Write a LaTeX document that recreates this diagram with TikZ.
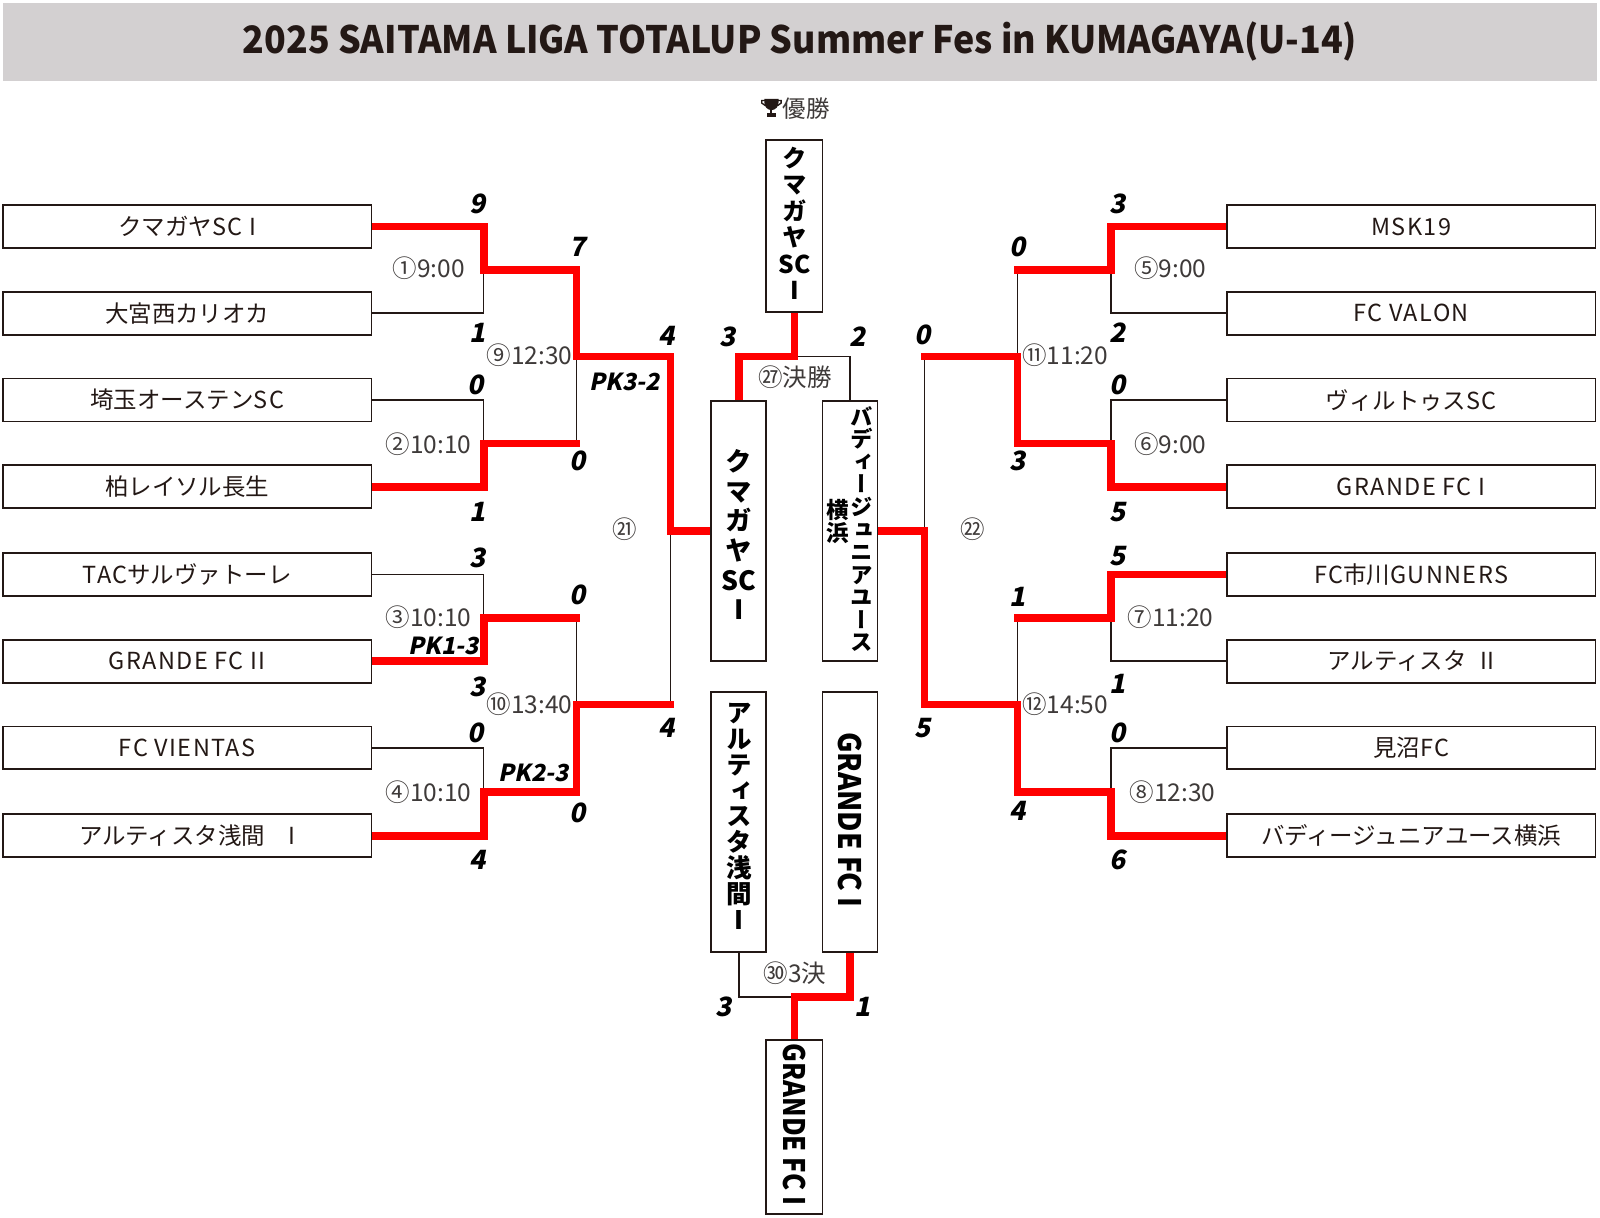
\documentclass[tikz,border=0pt]{standalone}
\usepackage{fontspec}
\usepackage{graphicx}
\setmainfont{Noto Sans CJK JP}
\newfontfamily\jp{Noto Sans CJK JP}
\newfontfamily\jpv{Noto Sans CJK JP}[RawFeature={+vert}]
\newfontfamily\scf{Noto Sans CJK JP}[FakeSlant=0.2]
\newcommand\latw[1]{{\addfontfeatures{LetterSpace=6}#1}}
\definecolor{ink}{HTML}{231815}
\definecolor{gtext}{HTML}{3E3A39}
\definecolor{wred}{RGB}{255,0,0}
\definecolor{titlebg}{RGB}{211,208,209}
\tikzset{
  teambox/.style={draw=ink, line width=1.8pt, minimum width=361pt, minimum height=42pt, inner sep=0pt, text=ink, font=\jp\fontsize{23}{23}\selectfont},
  vbox/.style={draw=ink, line width=1.8pt, minimum width=54pt, inner sep=0pt},
  thinline/.style={draw=ink, line width=1.6pt},
  winline/.style={draw=wred, line width=7.5pt, line join=miter},
  score/.style={font=\scf\bfseries\fontsize{26}{26}\selectfont, text=black, inner sep=0pt},
  pklabel/.style={font=\scf\bfseries\fontsize{23}{23}\selectfont, text=black, inner sep=0pt},
  mlabel/.style={font=\jp\fontsize{24}{24}\selectfont, text=gtext, inner sep=0pt},
  vstack/.style={align=center, inner sep=0pt, text=black},
  rottext/.style={inner sep=0pt, text=black, rotate=-90, font=\jp\bfseries\fontsize{30}{30}\selectfont},
}
\begin{document}
\begin{tikzpicture}[x=1pt, y=-1pt]
\useasboundingbox (0,0) rectangle (1568,1193);
% title
\fill[titlebg] (3,3) rectangle (1565,79);
\node[inner sep=0pt, text=ink] (title) at (784,41) {\resizebox{1092pt}{\height}{\jp\bfseries\fontsize{37}{37}\selectfont 2025 SAITAMA LIGA TOTALUP Summer Fes in KUMAGAYA(U-14)}};

% junction coordinates
\coordinate (a1) at (474,264.5);
\coordinate (a2) at (474,434.5);
\coordinate (a3) at (474,605.5);
\coordinate (a4) at (474,776);
\coordinate (b1) at (565,349.5);
\coordinate (b2) at (565,690.5);
\coordinate (c1) at (657,520.5);
\coordinate (d1) at (1089,264.5);
\coordinate (d2) at (1089,434.5);
\coordinate (d3) at (1089,605.5);
\coordinate (d4) at (1089,776);
\coordinate (e1) at (997,349.5);
\coordinate (e2) at (997,690.5);
\coordinate (f1) at (906,520.5);
\coordinate (g1) at (778.5,349.5);
\coordinate (h1) at (778.5,977);

% team boxes
\node[teambox] (L1) at (183.5,222) {クマガヤ\latw{SC I}};
\node[teambox] (L2) at (183.5,307) {大宮西カリオカ};
\node[teambox] (L3) at (183.5,392) {埼玉オーステン\latw{SC}};
\node[teambox] (L4) at (183.5,477) {柏レイソル長生};
\node[teambox] (L5) at (183.5,563) {\latw{TAC}サルヴァトーレ};
\node[teambox] (L6) at (183.5,648) {\latw{GRANDE FC II}};
\node[teambox] (L7) at (183.5,733) {\latw{FC VIENTAS}};
\node[teambox] (L8) at (183.5,819) {アルティスタ浅間　I};
\node[teambox] (R1) at (1383,222) {\latw{MSK19}};
\node[teambox] (R2) at (1383,307) {\latw{FC VALON}};
\node[teambox] (R3) at (1383,392) {ヴィルトゥス\latw{SC}};
\node[teambox] (R4) at (1383,477) {\latw{GRANDE FC I}};
\node[teambox] (R5) at (1383,563) {\latw{FC}市川\latw{GUNNERS}};
\node[teambox] (R6) at (1383,648) {アルティスタ\hspace{0.6em}II};
\node[teambox] (R7) at (1383,733) {見沼\latw{FC}};
\node[teambox] (R8) at (1383,819) {バディージュニアユース横浜};

% centre boxes
\node[vbox, minimum width=55pt, minimum height=169pt] (C) at (778.5,221.5) {};
\node[vbox, minimum height=255pt] (S1) at (724,520.5) {};
\node[vbox, minimum height=255pt] (S2) at (833,520.5) {};
\node[vbox, minimum height=255pt] (T1) at (724,805.5) {};
\node[vbox, minimum height=255pt] (T2) at (833,805.5) {};
\node[vbox, minimum width=55pt, minimum height=171pt] (B) at (778.5,1104.5) {};

% thin (losing) lines, left
\draw[thinline] (L2.east) -| (a1);
\draw[thinline] (L3.east) -| (a2);
\draw[thinline] (L5.east) -| (a3);
\draw[thinline] (L7.east) -| (a4);
\draw[thinline] (a2 -| b1) -- (b1);
\draw[thinline] (a3 -| b1) -- (b2);
\draw[thinline] (b2 -| c1) -- (c1);
% thin lines, right
\draw[thinline] (R2.west) -| (d1);
\draw[thinline] (R3.west) -| (d2);
\draw[thinline] (R6.west) -| (d3);
\draw[thinline] (R7.west) -| (d4);
\draw[thinline] (d1 -| e1) -- (e1);
\draw[thinline] (d3 -| e1) -- (e2);
\draw[thinline] (e1 -| f1) -- (f1);
% thin lines, centre
\draw[thinline] (g1) -| (S2.north);
\draw[thinline] (T1.south) |- (h1);

% winning (red) lines, left
\draw[winline] (L1.east) -| (a1) -- (a1 -| b1) -- (b1) -- (b1 -| c1) -- (c1) -- (S1.west);
\draw[winline, shorten >=-3.75pt] (L4.east) -| (a2) -- (a2 -| b1);
\draw[winline, shorten >=-3.75pt] (L6.east) -| (a3) -- (a3 -| b1);
\draw[winline, shorten >=-3.75pt] (L8.east) -| (a4) -- (a4 -| b1) -- (b2) -- (b2 -| c1);
% right
\draw[winline, shorten >=-3.75pt] (R1.west) -| (d1) -- (d1 -| e1);
\draw[winline, shorten >=-3.75pt] (R4.west) -| (d2) -- (d2 -| e1) -- (e1) -- (e1 -| f1);
\draw[winline, shorten >=-3.75pt] (R5.west) -| (d3) -- (d3 -| e1);
\draw[winline] (R8.west) -| (d4) -- (d4 -| e1) -- (e2) -- (e2 -| f1) -- (f1) -- (S2.east);
% centre
\draw[winline] (S1.north) |- (g1) -- (C.south);
\draw[winline] (T2.south) |- (h1) -- (B.north);

% vertical texts
\node[vstack, font=\jpv\bfseries\fontsize{24}{26}\selectfont] (Ct) at (778.5,219) {ク\\マ\\ガ\\ヤ\\SC\\I};
\node[vstack, font=\jpv\bfseries\fontsize{26}{29}\selectfont] (S1t) at (724,524) {ク\\マ\\ガ\\ヤ\\SC\\I};
\node[vstack, font=\jpv\bfseries\fontsize{22}{22.1}\selectfont] (S2t) at (844,518.5) {バ\\デ\\ィ\\ー\\ジ\\ュ\\ニ\\ア\\ユ\\ー\\ス};
\node[vstack, font=\jpv\bfseries\fontsize{22}{23}\selectfont] (S2u) at (821,511) {横\\浜};
\node[vstack, font=\jpv\bfseries\fontsize{25}{25.3}\selectfont] (T1t) at (724,800) {ア\\ル\\テ\\ィ\\ス\\タ\\浅\\間\\I};
\node[rottext] (T2t) at (833,803.5) {\resizebox{172pt}{23pt}{GRANDE FC I}};
\node[rottext] (Bt) at (778.5,1102) {\resizebox{158pt}{22pt}{GRANDE FC I}};

% trophy + champion heading
\fill[ink] (749,97) -- (763,97) -- (763,100) .. controls (763,105) and (760,107.5) .. (756,108) .. controls (752,107.5) and (749,105) .. (749,100) -- cycle;
\draw[ink, line width=1.3pt] (749.5,98.5) -- (746.5,98.5) -- (746.5,101) -- (750,103.5);
\draw[ink, line width=1.3pt] (762.5,98.5) -- (765.5,98.5) -- (765.5,101) -- (762,103.5);
\fill[ink] (755,107) rectangle (757,111.5);
\fill[ink] (751.5,111) rectangle (760.5,114.5);
\node[mlabel, font=\jp\fontsize{23}{23}\selectfont, anchor=west] (win) at (767,106) {優勝};

% match labels
\node[mlabel] (m1) at (420,263) {①9:00};
\node[mlabel] (m2) at (420,435) {②10:10};
\node[mlabel] (m3) at (420,605) {③10:10};
\node[mlabel] (m4) at (420,776) {④10:10};
\node[mlabel] (m9) at (519,348) {⑨12:30};
\node[mlabel] (m10) at (519,690) {⑩13:40};
\node[mlabel] (m21) at (612,519) {㉑};
\node[mlabel] (m5) at (1147,263) {⑤9:00};
\node[mlabel] (m6) at (1147,435) {⑥9:00};
\node[mlabel] (m7) at (1147,605) {⑦11:20};
\node[mlabel] (m8) at (1149,776) {⑧12:30};
\node[mlabel] (m11) at (1044,348) {⑪11:20};
\node[mlabel] (m12) at (1044,690) {⑫14:50};
\node[mlabel] (m22) at (953,519) {㉒};
\node[mlabel] (m27) at (779,370) {㉗決勝};
\node[mlabel] (m30) at (779,954) {㉚3決};

% scores left
\node[score] (sL1) at (468,200) {9};
\node[score] (sL2) at (468,326) {1};
\node[score] (sL3) at (466,377) {0};
\node[score] (sL4) at (468,502) {1};
\node[score] (sL5) at (468,547) {3};
\node[score] (sL6) at (468,673) {3};
\node[score] (sL7) at (466,718) {0};
\node[score] (sL8) at (468,843) {4};
\node[score] (sL9) at (566,242) {7};
\node[score] (sL10) at (566,452) {0};
\node[score] (sL11) at (566,583) {0};
\node[score] (sL12) at (566,797) {0};
\node[score] (sL13) at (653,329) {4};
\node[score] (sL14) at (653,713) {4};
\node[pklabel] (pk1) at (612,374) {PK3-2};
\node[pklabel] (pk2) at (435,633) {PK1-3};
\node[pklabel] (pk3) at (523,757) {PK2-3};
% scores right
\node[score] (sR1) at (1095,200) {3};
\node[score] (sR2) at (1095,326) {2};
\node[score] (sR3) at (1095,377) {0};
\node[score] (sR4) at (1095,502) {5};
\node[score] (sR5) at (1095,545) {5};
\node[score] (sR6) at (1095,670) {1};
\node[score] (sR7) at (1095,718) {0};
\node[score] (sR8) at (1095,843) {6};
\node[score] (sR9) at (997,242) {0};
\node[score] (sR10) at (997,452) {3};
\node[score] (sR11) at (997,585) {1};
\node[score] (sR12) at (997,795) {4};
\node[score] (sR13) at (904,328) {0};
\node[score] (sR14) at (904,713) {5};
% final and third place
\node[score] (sF1) at (713,330) {3};
\node[score] (sF2) at (840,330) {2};
\node[score] (sT1) at (709,987) {3};
\node[score] (sT2) at (845,987) {1};
\end{tikzpicture}
\end{document}
